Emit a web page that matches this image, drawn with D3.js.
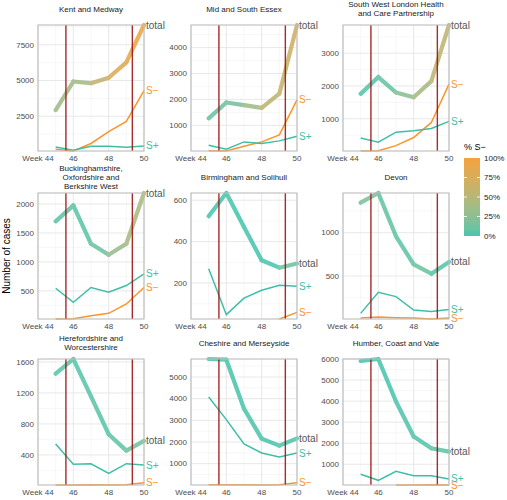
<!DOCTYPE html>
<html><head><meta charset="utf-8">
<script src="https://cdn.jsdelivr.net/npm/d3@7"></script>
<style>body{margin:0;background:#fff}svg{font-family:"Liberation Sans",Arial,sans-serif}</style>
</head><body>
<svg id="chart" width="507" height="500"></svg>
<script>
const regions = ["Kent and Medway","Mid and South Essex","South West London Health\nand Care Partnership",
  "Buckinghamshire,\nOxfordshire and\nBerkshire West","Birmingham and Solihull","Devon",
  "Herefordshire and\nWorcestershire","Cheshire and Merseyside","Humber, Coast and Vale"];
const weeks = [45,46,47,48,49,50];
const totalCases = [
  [2930,4929,4810,5190,6262,8881],
  [1273,1883,1779,1675,2221,4870],
  [1759,2272,1800,1656,2149,3862],
  [1700,1976,1313,1123,1313,2190],
  [523,635,471,310,274,294],
  [1346,1458,958,635,527,662],
  [1448,1638,1155,667,456,581],
  [5831,5800,3538,2154,1831,2169],
  [5905,6000,3984,2317,1762,1603]
];
const sPlus = [
  [357,119,405,405,333,428],
  [234,78,364,299,403,584],
  [415,282,590,631,703,918],
  [546,304,558,477,592,794],
  [269,47,127,165,189,184],
  [69,312,262,108,92,115],
  [542,279,285,162,287,270],
  [4077,3031,1908,1492,1308,1492],
  [524,238,667,460,460,302]
];
const sMinus = [
  [190,70,595,1430,2140,4286],
  [26,13,195,364,636,1987],
  [15,26,179,426,887,2056],
  [15,21,73,113,275,558],
  [null,null,null,null,26,58],
  [15,27,19,15,4,15],
  [12,12,16,12,16,42],
  [31,31,31,15,31,123],
  [null,null,16,16,32,16]
];
const yTicks = [
  [2500,5000,7500],
  [1000,2000,3000,4000],
  [1000,2000,3000],
  [500,1000,1500,2000],
  [200,400,600],
  [500,1000],
  [400,800,1200,1600],
  [1000,2000,3000,4000,5000],
  [1000,2000,3000,4000,5000,6000]
];
const xTicks = [44,46,48,50];
const xTickLabels = ["Week 44","46","48","50"];
const markerWeeks = [45.58,49.34];
const legendTicks = [0,0.25,0.5,0.75,1];
const legendLabels = ["0%","25%","50%","75%","100%"];

const colLow = "#48c6ae", colHigh = "#f4a23c";
const colPlus = "#3dbfa7", colMinus = "#fd9428";
const colorScale = d3.scaleLinear().domain([0,1]).range([colLow,colHigh]).interpolate(d3.interpolateLab);

const svg = d3.select("#chart");
const defs = svg.append("defs");
const colX = [38,191,343], rowY = [25,193,359], pw = 106, ph = 126;
const tickCol = "#4d4d4d";

regions.forEach((name,i)=>{
  const x0 = colX[i%3], y0 = rowY[Math.floor(i/3)];
  const g = svg.append("g").attr("transform",`translate(${x0},${y0})`);
  const x = d3.scaleLinear().domain([44,50]).range([0,pw]);
  const all = totalCases[i].concat(sPlus[i], sMinus[i].filter(v=>v!=null));
  const y = d3.scaleLinear().domain(d3.extent(all)).range([ph,0]);
  const [lo,hi] = y.domain();
  // grid
  const t = yTicks[i], step = t[1]-t[0];
  const minors = [];
  for (let v=t[0]-step/2; v<=hi; v+=step) if (v>=lo) minors.push(v);
  g.selectAll(".ymin").data(minors).join("line").attr("x1",0).attr("x2",pw)
    .attr("y1",d=>y(d)).attr("y2",d=>y(d)).attr("stroke","#f2f2f2").attr("stroke-width",0.6);
  g.selectAll(".xmin").data([45,47,49]).join("line").attr("y1",0).attr("y2",ph)
    .attr("x1",d=>x(d)).attr("x2",d=>x(d)).attr("stroke","#f2f2f2").attr("stroke-width",0.6);
  g.selectAll(".ymaj").data(t).join("line").attr("x1",0).attr("x2",pw)
    .attr("y1",d=>y(d)).attr("y2",d=>y(d)).attr("stroke","#e5e5e5").attr("stroke-width",0.9);
  g.selectAll(".xmaj").data(xTicks).join("line").attr("y1",0).attr("y2",ph)
    .attr("x1",d=>x(d)).attr("x2",d=>x(d)).attr("stroke","#e5e5e5").attr("stroke-width",0.9);
  // S- and S+ lines
  const line = d3.line().defined(d=>d[1]!=null).x(d=>x(d[0])).y(d=>y(d[1]));
  g.append("path").datum(weeks.map((w,k)=>[w,sMinus[i][k]])).attr("d",line)
    .attr("fill","none").attr("stroke",colMinus).attr("stroke-width",1.5);
  g.append("path").datum(weeks.map((w,k)=>[w,sPlus[i][k]])).attr("d",line)
    .attr("fill","none").attr("stroke",colPlus).attr("stroke-width",1.5);
  // total line with gradient colour by % S-
  const pct = weeks.map((w,k)=>{const m=sMinus[i][k]||0, p=sPlus[i][k]; return m/(m+p);});
  const tg = g.append("g").attr("opacity",0.88);
  for (let k=0;k<weeks.length-1;k++){
    const id = `grad${i}_${k}`;
    const x1=x(weeks[k]), y1=y(totalCases[i][k]), x2=x(weeks[k+1]), y2=y(totalCases[i][k+1]);
    const lg = defs.append("linearGradient").attr("id",id).attr("gradientUnits","userSpaceOnUse")
      .attr("x1",x0+x1).attr("y1",y0+y1).attr("x2",x0+x2).attr("y2",y0+y2);
    lg.append("stop").attr("offset","0%").attr("stop-color",colorScale(pct[k]));
    lg.append("stop").attr("offset","100%").attr("stop-color",colorScale(pct[k+1]));
    tg.append("line").attr("x1",x1).attr("y1",y1).attr("x2",x2).attr("y2",y2)
      .attr("stroke",`url(#${id})`).attr("stroke-width",4.2).attr("stroke-linecap","round");
  }
  // marker lines
  g.selectAll(".mk").data(markerWeeks).join("line").attr("y1",0).attr("y2",ph)
    .attr("x1",d=>x(d)).attr("x2",d=>x(d)).attr("stroke","#9e1414").attr("stroke-width",1.4).attr("opacity",0.9);
  // border
  g.append("rect").attr("width",pw).attr("height",ph).attr("fill","none")
    .attr("stroke","#bcbcbc").attr("stroke-width",1.1);
  // axes labels
  g.selectAll(".yl").data(t).join("text").attr("x",-4).attr("y",d=>y(d)).attr("dy","0.35em")
    .attr("text-anchor","end").attr("font-size",8).attr("fill",tickCol).text(d=>d);
  g.selectAll(".xl").data(xTicks).join("text").attr("x",d=>x(d)).attr("y",ph+10)
    .attr("text-anchor","middle").attr("font-size",8).attr("fill",tickCol).text((d,k)=>xTickLabels[k]);
  // end labels
  const last = weeks.length-1;
  const ends = [["total",totalCases[i][last],"#555555"],["S\u2212",sMinus[i][last],colMinus],["S+",sPlus[i][last],colPlus]];
  g.selectAll(".el").data(ends).join("text").attr("x",pw+2).attr("y",d=>y(d[1])).attr("dy","0.35em")
    .attr("font-size",10).attr("fill",d=>d[2]).text(d=>d[0]);
  // title
  const lines = name.split("\n");
  g.selectAll(".tt").data(lines).join("text").attr("x",pw/2)
    .attr("y",(d,k)=>-16+(k-(lines.length-1)/2)*8.7).attr("dy","0.35em")
    .attr("text-anchor","middle").attr("font-size",8).attr("fill","#1a1a1a").text(d=>d);
});

// y axis title
svg.append("text").attr("transform","translate(10,256) rotate(-90)").attr("text-anchor","middle")
  .attr("font-size",10).attr("fill","#000").text("Number of cases");

// legend
const lgx = 464, lgy = 158, lgw = 16, lgh = 78;
const vg = defs.append("linearGradient").attr("id","legGrad").attr("x1",0).attr("y1",1).attr("x2",0).attr("y2",0);
d3.range(0,1.0001,0.1).forEach(v=>vg.append("stop").attr("offset",v).attr("stop-color",colorScale(v)));
svg.append("rect").attr("x",lgx).attr("y",lgy).attr("width",lgw).attr("height",lgh).attr("fill","url(#legGrad)");
const ly = d3.scaleLinear().domain([0,1]).range([lgy+lgh,lgy]);
legendTicks.forEach((v,k)=>{
  if (v>0 && v<1){
    svg.append("line").attr("x1",lgx).attr("x2",lgx+3).attr("y1",ly(v)).attr("y2",ly(v)).attr("stroke","#fff").attr("stroke-width",0.8);
    svg.append("line").attr("x1",lgx+lgw-3).attr("x2",lgx+lgw).attr("y1",ly(v)).attr("y2",ly(v)).attr("stroke","#fff").attr("stroke-width",0.8);
  }
  svg.append("text").attr("x",lgx+lgw+4).attr("y",ly(v)).attr("dy","0.35em").attr("font-size",8)
    .attr("fill","#1a1a1a").text(legendLabels[k]);
});
svg.append("text").attr("x",lgx).attr("y",150).attr("font-size",9).attr("fill","#000").text("% S\u2212");
</script>
</body></html>
